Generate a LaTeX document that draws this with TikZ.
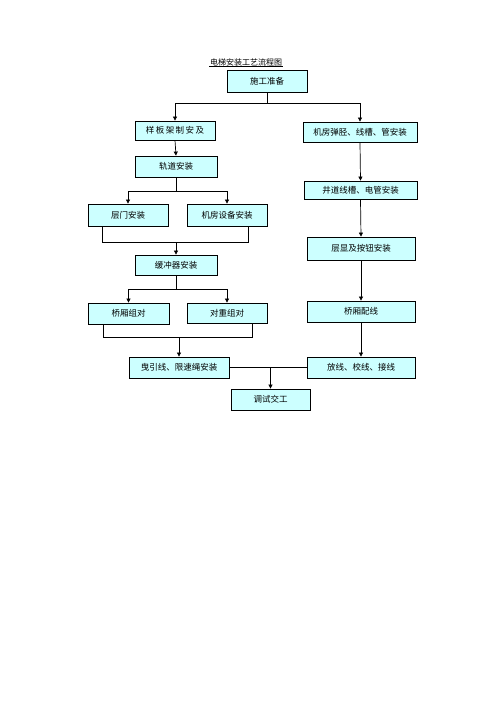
\documentclass[tikz,border=0pt]{standalone}
\usepackage{fontspec}
\setmainfont{Noto Sans CJK SC}
\usetikzlibrary{arrows.meta}
\definecolor{boxfill}{HTML}{CCFFFF}
\begin{document}
\begin{tikzpicture}[x=1pt,y=-1pt,
  box/.style={draw=black,fill=boxfill,line width=0.8pt,inner sep=0pt,anchor=center,font=\fontsize{8.5}{10}\selectfont},
  conn/.style={line width=0.7pt},
  arr/.style={line width=0.7pt,-{Triangle[length=4pt,width=4pt]}}]
\useasboundingbox[fill=white] (0,0) rectangle (500,707);
\node[inner sep=0.5pt,font=\fontsize{8}{9}\selectfont] (title) at (246,62) {电梯安装工艺流程图};
\draw[line width=0.5pt] (title.south west) -- (title.south east);

\node[box,minimum width=80pt,minimum height=22pt] (prep) at (267,81) {施工准备};
\node[box,minimum width=80pt,minimum height=19pt] (yb) at (175,130.5) {样\,板\,架\,制\,安\,及};
\node[box,minimum width=114pt,minimum height=20pt] (jf) at (360,132) {机房弹胫、线槽、管安装};
\node[box,minimum width=82pt,minimum height=21pt] (gd) at (176,166.5) {轨道安装};
\node[box,minimum width=113pt,minimum height=18pt] (jd) at (360.5,190) {井道线槽、电管安装};
\node[box,minimum width=80pt,minimum height=22pt] (cm) at (128,215) {层门安装};
\node[box,minimum width=80pt,minimum height=22pt] (jfsb) at (227,215) {机房设备安装};
\node[box,minimum width=108pt,minimum height=23pt] (cx) at (361,248.5) {层显及按钮安装};
\node[box,minimum width=82pt,minimum height=20pt] (hc) at (176,265) {缓冲器安装};
\node[box,minimum width=81pt,minimum height=21pt] (jxzd) at (128.5,313.5) {桥厢组对};
\node[box,minimum width=80pt,minimum height=20pt] (dz) at (227,313) {对重组对};
\node[box,minimum width=108pt,minimum height=21pt] (pxl) at (361,311.5) {桥厢配线};
\node[box,minimum width=100pt,minimum height=21pt] (yy) at (179,367.5) {曳引线、限速绳安装};
\node[box,minimum width=108pt,minimum height=21pt] (fx) at (361,367.5) {放线、校线、接线};
\node[box,minimum width=79pt,minimum height=21pt] (ts) at (270.5,399.5) {调试交工};

% top split
\draw[conn] (prep.south) -- ++(0,11) coordinate (s1);
\draw[arr] (s1) -| (yb.north);
\draw[arr] (s1) -| (jf.north);
% left column
\draw[arr] (yb.south) -- (gd.north);
\draw[conn] (gd.south) -- ++(0,13.5) coordinate (s2);
\draw[arr] (s2) -| (cm.north);
\draw[arr] (s2) -| (jfsb.north);
\draw[conn] ([xshift=-26pt]cm.south) -- ++(0,16) coordinate (m1) -| ([xshift=21pt]jfsb.south);
\coordinate (m1c) at (176,242);
\draw[arr] (m1c) -- (hc.north);
\draw[conn] (hc.south) -- ++(0,14) coordinate (s3);
\draw[arr] (s3) -| (jxzd.north);
\draw[arr] (s3) -| (dz.north);
\draw[conn] ([xshift=-25.5pt]jxzd.south) -- ++(0,13) coordinate (m2) -| ([xshift=25pt]dz.south);
\coordinate (m2c) at (179,337);
\draw[arr] (m2c) -- (yy.north);
% right column
\draw[arr] (jf.south) -- (jd.north);
\draw[arr] (jd.south) -- (cx.north);
\draw[arr] (cx.south) -- (pxl.north);
\draw[arr] (pxl.south) -- (fx.north);
% bottom
\draw[conn] (yy.east) -- (fx.west);
\coordinate (m3) at (270.5,367.5);
\draw[arr] (m3) -- (ts.north);
\end{tikzpicture}
\end{document}
